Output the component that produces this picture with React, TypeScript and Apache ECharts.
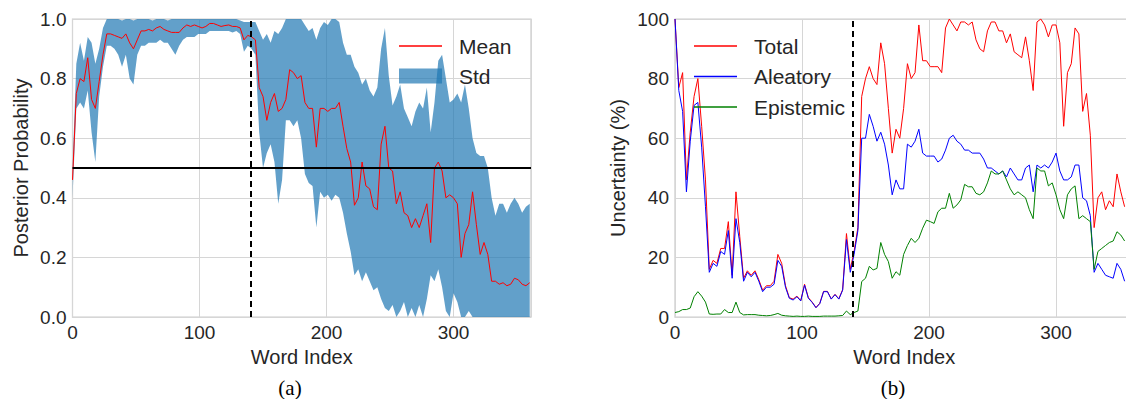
import React, { useEffect, useRef } from "react";
import * as echarts from "echarts";

// ---------- Data ----------
const WORD_A = [
  0, 3, 6, 9, 12, 15, 18, 21, 24, 27, 30, 33, 36, 39, 42, 45, 48, 51, 54, 57,
  60, 63, 66, 69, 72, 75, 78, 81, 84, 87, 90, 93, 96, 99, 102, 105, 108, 111, 114, 117,
  120, 123, 126, 129, 132, 135, 138, 141, 144, 147, 150, 153, 156, 159, 162, 165, 168, 171, 174, 177,
  180, 183, 186, 189, 192, 195, 198, 201, 204, 207, 210, 213, 216, 219, 222, 225, 228, 231, 234, 237,
  240, 243, 246, 249, 252, 255, 258, 261, 264, 267, 270, 273, 276, 279, 282, 285, 288, 291, 294, 297,
  300, 303, 306, 309, 312, 315, 318, 321, 324, 327, 330, 333, 336, 339, 342, 345, 348, 351, 354, 357,
  360,
];

const MEAN = [
  0.46, 0.75, 0.8, 0.79, 0.87, 0.73, 0.7, 0.79, 0.88, 0.95,
  0.95, 0.945, 0.94, 0.935, 0.95, 0.92, 0.9, 0.93, 0.96, 0.96,
  0.965, 0.96, 0.97, 0.975, 0.965, 0.96, 0.955, 0.955, 0.955, 0.97,
  0.98, 0.975, 0.98, 0.975, 0.97, 0.975, 0.985, 0.985, 0.98, 0.975,
  0.978, 0.98, 0.975, 0.975, 0.97, 0.93, 0.945, 0.94, 0.93, 0.77,
  0.74, 0.66, 0.72, 0.75, 0.69, 0.7, 0.73, 0.83, 0.82, 0.8,
  0.81, 0.72, 0.7, 0.7, 0.57, 0.7, 0.7, 0.69, 0.7, 0.7,
  0.72, 0.64, 0.565, 0.52, 0.375, 0.4, 0.52, 0.44, 0.43, 0.37,
  0.36, 0.58, 0.64, 0.5, 0.49, 0.38, 0.42, 0.35, 0.34, 0.3,
  0.33, 0.3, 0.34, 0.38, 0.25, 0.5, 0.52, 0.49, 0.4, 0.41,
  0.4, 0.38, 0.2, 0.28, 0.31, 0.42, 0.31, 0.21, 0.25, 0.21,
  0.12, 0.12, 0.11, 0.115, 0.105, 0.11, 0.13, 0.125, 0.11, 0.105,
  0.115,
];

const STD_UPPER = [
  0.5, 0.85, 0.92, 0.86, 0.94, 0.92, 0.85, 0.9, 0.97, 1.0,
  1.0, 1.0, 1.0, 0.995, 1.0, 1.0, 0.995, 1.0, 1.0, 1.0,
  1.0, 0.995, 1.0, 1.0, 1.0, 0.995, 1.0, 1.0, 1.0, 1.0,
  1.0, 1.0, 1.0, 1.0, 1.0, 1.0, 1.0, 1.0, 1.0, 1.0,
  1.0, 1.0, 1.0, 1.0, 0.995, 0.99, 0.99, 0.99, 0.99, 0.96,
  0.93, 0.95, 0.92, 0.96, 0.95, 0.97, 1.0, 1.0, 1.0, 1.0,
  1.0, 0.98, 0.96, 0.97, 0.93, 0.97, 0.99, 0.98, 1.0, 1.0,
  0.99, 0.92, 0.88, 0.88, 0.84, 0.82, 0.78, 0.8, 0.76, 0.74,
  0.77, 0.9, 0.97, 0.81, 0.71, 0.74, 0.78, 0.7, 0.67, 0.64,
  0.69, 0.72, 0.7, 0.77, 0.62, 0.72, 0.86, 0.88, 0.8, 0.72,
  0.73, 0.75, 0.72, 0.78, 0.7, 0.6, 0.55, 0.54, 0.54, 0.5,
  0.4, 0.34, 0.38, 0.38, 0.35, 0.38, 0.4, 0.38, 0.35, 0.37,
  0.38,
];

const STD_LOWER = [
  0.4, 0.7, 0.72, 0.7, 0.76, 0.62, 0.52, 0.74, 0.84, 0.91,
  0.91, 0.9, 0.88, 0.84, 0.88, 0.8, 0.78, 0.88, 0.91, 0.91,
  0.92, 0.92, 0.92, 0.93, 0.92, 0.92, 0.9, 0.88, 0.91, 0.93,
  0.94, 0.94, 0.94, 0.95, 0.95, 0.95, 0.96, 0.96, 0.96, 0.96,
  0.96, 0.96, 0.955, 0.96, 0.95, 0.89, 0.91, 0.9, 0.88, 0.62,
  0.5, 0.55, 0.58, 0.52, 0.38, 0.46, 0.66, 0.66, 0.64, 0.66,
  0.6, 0.48, 0.45, 0.44, 0.3, 0.42, 0.4, 0.41, 0.39, 0.41,
  0.4, 0.35, 0.28, 0.22, 0.14, 0.16, 0.12, 0.15, 0.12, 0.09,
  0.1, 0.06, 0.03, 0.02, 0.04, 0.0, 0.02, 0.05, 0.0, 0.03,
  0.0, 0.04, 0.0, 0.06, 0.14, 0.12, 0.16, 0.1, 0.02, 0.0,
  0.08, 0.05, 0.0, 0.0, 0.02, 0.0, 0.0, 0.0, 0.0, 0.0,
  0.0, 0.0, 0.0, 0.0, 0.0, 0.0, 0.0, 0.0, 0.0, 0.0,
  0.0,
];

const WORD_B = [
  0, 3, 6, 9, 12, 15, 18, 21, 24, 27, 30, 33, 36, 39, 42, 45, 48, 51, 54, 57,
  60, 63, 66, 69, 72, 75, 78, 81, 84, 87, 90, 93, 96, 99, 102, 105, 108, 111, 114, 117,
  120, 123, 126, 129, 132, 135, 138, 141, 144, 147, 150, 153, 156, 159, 162, 165, 168, 171, 174, 177,
  180, 183, 186, 189, 192, 195, 198, 201, 204, 207, 210, 213, 216, 219, 222, 225, 228, 231, 234, 237,
  240, 243, 246, 249, 252, 255, 258, 261, 264, 267, 270, 273, 276, 279, 282, 285, 288, 291, 294, 297,
  300, 303, 306, 309, 312, 315, 318, 321, 324, 327, 330, 333, 336, 339, 342, 345, 348, 351, 354,
];

const TOTAL = [
  100, 77, 82, 46, 62, 74, 80, 64, 46, 16,
  19, 18, 23, 23, 32, 14, 42, 27, 13, 15.5,
  14, 15.5, 12.5, 9, 10.5, 10.5, 12, 21, 18, 10.5,
  6.5, 6, 7, 5.5, 11, 6.5, 5, 3.2, 4.6, 8.6,
  8.6, 6.1, 7.6, 6.1, 9.2, 28, 16, 22, 30, 74,
  80, 84, 80, 78, 92, 85, 70, 55, 63, 60,
  70, 85, 80, 82, 98, 86, 86, 84, 84, 84,
  82, 97, 100, 98, 96, 99, 99, 98, 99, 93,
  90, 89, 96, 99, 99, 96, 96, 92, 95, 89,
  88, 87, 94, 86, 76, 99, 100, 98, 94, 98,
  98, 92, 64, 82, 85, 97, 95, 69, 75, 61,
  30, 40, 42, 36, 39, 37, 48, 42, 37,
];

const ALEATORY = [
  100, 76, 69, 42, 59, 71, 72, 57, 37, 15,
  18, 17, 22, 21, 29, 13, 33, 25, 12, 15,
  13.5, 15, 12, 8.5, 10, 10, 11, 19, 17, 10,
  6.3, 5.7, 6.8, 5.4, 10.7, 6.3, 4.9, 3.1, 4.5, 8.5,
  8.5, 6, 7.5, 6, 9, 26, 15, 21, 29, 60,
  60, 68, 64, 59, 62, 58, 51, 41, 46, 43,
  43, 58, 57, 59, 63, 55, 54, 54, 54, 52,
  53, 56, 60, 61, 59, 58, 56, 56, 55, 55,
  55, 53, 50, 50, 49, 48, 49, 47, 50, 48,
  46, 46, 50, 51, 42, 51, 50, 51, 50, 52,
  55, 49, 46, 46, 47, 51, 51, 40, 39, 34,
  15, 18, 16, 14, 13.5, 13, 18, 16, 12,
];

const EPISTEMIC = [
  1.5, 1.8, 2.5, 2.5, 3, 6.8, 8.5, 7, 5, 1,
  0.9, 1, 1, 2.5, 1.5, 1.5, 5, 1.5, 0.7, 0.8,
  0.8, 0.8, 0.6, 0.5, 0.4, 0.5, 0.8, 1.2, 0.6, 0.4,
  0.3, 0.2, 0.3, 0.2, 0.2, 0.3, 0.2, 0.2, 0.2, 0.3,
  0.3, 0.3, 0.3, 0.4, 0.5, 2, 0.8, 1.5, 2, 11.9,
  13, 17, 15.8, 16.3, 25, 21, 18.6, 13, 15.2, 14,
  21, 24, 26.4, 25, 26.4, 29.8, 32.5, 32, 31.4, 35.3,
  36.5, 36.5, 41.5, 36.5, 37.6, 39.3, 44.5, 43.7, 43.7, 41.5,
  41, 42, 45, 49, 48, 48, 49, 46, 43, 41,
  42, 41, 40, 36, 33, 50, 49, 49, 44, 45,
  41, 36, 33, 41, 43, 44, 33, 34, 33, 32,
  16, 22, 23, 24, 25, 25.5, 28.6, 27.5, 25.5,
];

const DIVIDER_WORD = 140;
const THRESHOLD = 0.5;
const X_TICKS = [0, 100, 200, 300];
const PROB_TICKS = [0, 0.2, 0.4, 0.6, 0.8, 1.0];
const PCT_TICKS = [0, 20, 40, 60, 80, 100];

// ---------- Styling ----------
const FONT = "'Liberation Sans', Arial, sans-serif";
const TXT = "#262626";
const GRIDC = "#d6d6d6";
const BAND = "rgba(31,119,180,0.7)";

export default function App() {
  const ref = useRef<HTMLDivElement | null>(null);

  useEffect(() => {
    if (!ref.current) return;
    const chart = echarts.init(ref.current, undefined, { renderer: "svg" });

    const axisLabel = { fontSize: 19, color: TXT, fontFamily: FONT, margin: 6 };
    const nameStyle = { fontSize: 20, color: TXT, fontFamily: FONT };
    const split = { show: true, lineStyle: { color: GRIDC, width: 1 } };
    const xMax = 361;
    const legendText = { fontSize: 21, color: TXT, fontFamily: FONT, padding: [0, 0, 0, 12], lineHeight: 22 };

    const xAxisCommon = (gi: number) => ({
      gridIndex: gi,
      type: "value",
      min: X_TICKS[0],
      max: xMax,
      interval: X_TICKS[1] - X_TICKS[0],
      axisLine: { show: false },
      axisTick: { show: false },
      splitLine: split,
      axisLabel: { ...axisLabel, showMaxLabel: false },
      name: "Word Index",
      nameLocation: "middle",
      nameGap: 26,
      nameTextStyle: nameStyle,
    });

    const meanData = WORD_A.map((w, i) => [w, MEAN[i]]);

    const option: any = {
      animation: false,
      backgroundColor: "#ffffff",
      grid: [
        { left: 72.5, top: 19, width: 458.5, height: 298, show: true, borderColor: "#cccccc", borderWidth: 1.25, backgroundColor: "transparent" },
        { left: 675, top: 19, width: 458.5, height: 298, show: true, borderColor: "#cccccc", borderWidth: 1.25, backgroundColor: "transparent" },
      ],
      xAxis: [xAxisCommon(0), xAxisCommon(1)],
      yAxis: [
        {
          gridIndex: 0,
          type: "value",
          min: PROB_TICKS[0],
          max: PROB_TICKS[PROB_TICKS.length - 1],
          interval: PROB_TICKS[1] - PROB_TICKS[0],
          axisLine: { show: false },
          axisTick: { show: false },
          splitLine: split,
          axisLabel: { ...axisLabel, formatter: (v: number) => v.toFixed(1) },
          name: "Posterior Probability",
          nameLocation: "middle",
          nameGap: 42,
          nameTextStyle: nameStyle,
        },
        {
          gridIndex: 1,
          type: "value",
          min: PCT_TICKS[0],
          max: PCT_TICKS[PCT_TICKS.length - 1],
          interval: PCT_TICKS[1] - PCT_TICKS[0],
          axisLine: { show: false },
          axisTick: { show: false },
          splitLine: split,
          axisLabel: axisLabel,
          name: "Uncertainty (%)",
          nameLocation: "middle",
          nameGap: 47,
          nameTextStyle: nameStyle,
        },
      ],
      legend: [
        {
          data: [{ name: "Mean", icon: "rect" }],
          left: 399,
          top: 35,
          padding: 0,
          itemWidth: 43,
          itemHeight: 1.5,
          selectedMode: false,
          textStyle: legendText,
        },
        {
          data: [{ name: "Std", icon: "rect" }],
          left: 399,
          top: 65,
          padding: 0,
          itemWidth: 43,
          itemHeight: 15,
          selectedMode: false,
          textStyle: legendText,
        },
        {
          data: [
            { name: "Total", icon: "rect" },
            { name: "Aleatory", icon: "rect" },
            { name: "Epistemic", icon: "rect" },
          ],
          orient: "vertical",
          left: 694,
          top: 35,
          padding: 0,
          itemGap: 8.5,
          itemWidth: 43,
          itemHeight: 1.5,
          selectedMode: false,
          textStyle: legendText,
        },
      ],
      graphic: [
        { type: "text", style: { text: "(a)", x: 290, y: 388, align: "center", verticalAlign: "middle", fontSize: 21, fontFamily: "'Liberation Serif', 'Times New Roman', serif", fill: "#000" } },
        { type: "text", style: { text: "(b)", x: 893, y: 388, align: "center", verticalAlign: "middle", fontSize: 21, fontFamily: "'Liberation Serif', 'Times New Roman', serif", fill: "#000" } },
      ],
      series: [
        {
          type: "custom",
          name: "Std",
          xAxisIndex: 0,
          yAxisIndex: 0,
          z: 1,
          itemStyle: { color: BAND },
          data: [[WORD_A[0], STD_LOWER[0]]],
          renderItem: (params: any, api: any) => {
            const pts: number[][] = [];
            for (let i = 0; i < WORD_A.length; i++) pts.push(api.coord([WORD_A[i], STD_UPPER[i]]));
            for (let i = WORD_A.length - 1; i >= 0; i--) pts.push(api.coord([WORD_A[i], STD_LOWER[i]]));
            const cs = params.coordSys;
            return {
              type: "polygon",
              shape: { points: pts },
              style: { fill: BAND, stroke: "none" },
              clipPath: { type: "rect", shape: { x: cs.x, y: cs.y, width: cs.width, height: cs.height } },
            };
          },
        },
        {
          type: "line",
          name: "Mean",
          xAxisIndex: 0,
          yAxisIndex: 0,
          z: 3,
          data: meanData,
          showSymbol: false,
          symbol: "none",
          lineStyle: { color: "#ff0000", width: 1 },
          itemStyle: { color: "#ff0000" },
          markLine: {
            silent: true,
            symbol: ["none", "none"],
            label: { show: false },
            data: [
              { yAxis: THRESHOLD, lineStyle: { color: "#000000", width: 1.8, type: "solid" } },
              { xAxis: DIVIDER_WORD, lineStyle: { color: "#000000", width: 2, type: [6, 4] } },
            ],
          },
        },
        {
          type: "line",
          name: "Total",
          xAxisIndex: 1,
          yAxisIndex: 1,
          z: 2,
          data: WORD_B.map((w, i) => [w, TOTAL[i]]),
          showSymbol: false,
          symbol: "none",
          lineStyle: { color: "#ff0000", width: 1 },
          itemStyle: { color: "#ff0000" },
        },
        {
          type: "line",
          name: "Aleatory",
          xAxisIndex: 1,
          yAxisIndex: 1,
          z: 3,
          data: WORD_B.map((w, i) => [w, ALEATORY[i]]),
          showSymbol: false,
          symbol: "none",
          lineStyle: { color: "#0000ff", width: 1 },
          itemStyle: { color: "#0000ff" },
        },
        {
          type: "line",
          name: "Epistemic",
          xAxisIndex: 1,
          yAxisIndex: 1,
          z: 4,
          data: WORD_B.map((w, i) => [w, EPISTEMIC[i]]),
          showSymbol: false,
          symbol: "none",
          lineStyle: { color: "#008000", width: 1 },
          itemStyle: { color: "#008000" },
          markLine: {
            silent: true,
            symbol: ["none", "none"],
            label: { show: false },
            data: [{ xAxis: DIVIDER_WORD, lineStyle: { color: "#000000", width: 2, type: [6, 4] } }],
          },
        },
      ],
    };

    chart.setOption(option);
    return () => chart.dispose();
  }, []);

  return (
    <div
      ref={ref}
      style={{ position: "fixed", left: 0, top: 0, width: 1140, height: 399, background: "#fff" }}
    />
  );
}
